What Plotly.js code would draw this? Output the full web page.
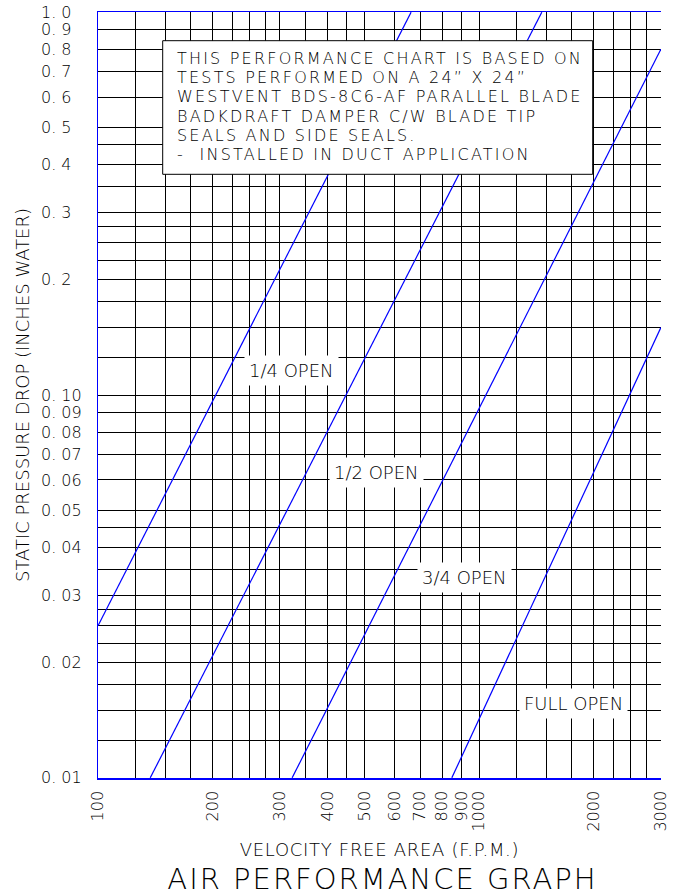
<!DOCTYPE html>
<html>
<head>
<meta charset="utf-8">
<script src="https://cdn.plot.ly/plotly-3.0.1.min.js"></script>
<style>
  html, body { margin: 0; padding: 0; background: #ffffff; }
  #chart { width: 683px; height: 896px; }
  /* wide CAD-style lettering */
  g.annotation[data-index="4"] text, g.annotation[data-index="5"] text,
  g.annotation[data-index="6"] text, g.annotation[data-index="7"] text,
  g.annotation[data-index="8"] text, g.annotation[data-index="9"] text { letter-spacing: 2.2px; }
  text.gtitle { letter-spacing: 2px; }
  text.xtitle { letter-spacing: 0.7px; }
</style>
</head>
<body>
<div id="chart"></div>
<script>
// ---------------- data ----------------
const curveNames = ['1/4 OPEN', '1/2 OPEN', '3/4 OPEN', 'FULL OPEN'];
// endpoints of each (straight on log-log) curve: velocity (F.P.M.) and pressure drop (in. water)
const quarterOpenV = [100, 663];
const quarterOpenP = [0.025, 1.0];
const halfOpenV = [137, 1461];
const halfOpenP = [0.01, 1.0];
const threeQuarterOpenV = [323, 3000];
const threeQuarterOpenP = [0.01, 0.8];
const fullOpenV = [848, 3000];
const fullOpenP = [0.01, 0.15];

const xTickVals = [100, 200, 300, 400, 500, 600, 700, 800, 900, 1000, 2000, 3000];
const xTickText = ['100', '200', '300', '400', '500', '600', '700', '800', '900', '1000', '2000', '3000'];
const xMinorVals = [125, 150, 175, 225, 250, 275, 350, 450, 1250, 1500, 1750, 2250, 2500, 2750];

const yTickVals = [0.01, 0.02, 0.03, 0.04, 0.05, 0.06, 0.07, 0.08, 0.09, 0.1, 0.2, 0.3, 0.4, 0.5, 0.6, 0.7, 0.8, 0.9, 1.0];
const yTickText = ['0. 01', '0. 02', '0. 03', '0. 04', '0. 05', '0. 06', '0. 07', '0. 08', '0. 09', '0. 10',
                   '0. 2', '0. 3', '0. 4', '0. 5', '0. 6', '0. 7', '0. 8', '0. 9', '1. 0'];
const yMinorVals = [0.0125, 0.015, 0.0175, 0.0225, 0.025, 0.0275, 0.035, 0.045,
                    0.125, 0.15, 0.175, 0.225, 0.25, 0.275, 0.35, 0.45];

const xTitle = 'VELOCITY FREE AREA (F.P.M.)';
const yTitle = 'STATIC PRESSURE DROP (INCHES WATER)';
const chartTitle = 'AIR PERFORMANCE GRAPH';
const noteLines = [
  'THIS PERFORMANCE CHART IS BASED ON',
  'TESTS PERFORMED ON A 24\u201D X 24\u201D',
  'WESTVENT BDS-8C6-AF PARALLEL BLADE',
  'BADKDRAFT DAMPER C/W BLADE TIP',
  'SEALS AND SIDE SEALS.',
  '-\u00A0\u00A0INSTALLED IN DUCT APPLICATION'
];

// ---------------- layout helpers ----------------
const FONT = 'DejaVu Sans, Verdana, sans-serif';
const TXT = '#000000';
const BLUE = '#0000ff';
const M = { l: 20, r: 22, t: 12, b: 118 };
const PW = 683 - M.l - M.r, PH = 896 - M.t - M.b;
const plotLeft = 98;
function paperX(px) { return (px - M.l) / PW; }
function paperY(py) { return 1 - (py - M.t) / PH; }

const xRange = [Math.log10(100) - 0.0004, Math.log10(3000) + 0.0004];
const yRange = [Math.log10(0.01) - 0.0004, Math.log10(1.0) + 0.0004];

const seriesV = [quarterOpenV, halfOpenV, threeQuarterOpenV, fullOpenV];
const seriesP = [quarterOpenP, halfOpenP, threeQuarterOpenP, fullOpenP];
const traces = curveNames.map((n, i) => ({
  type: 'scatter', mode: 'lines', name: n,
  x: seriesV[i], y: seriesP[i],
  line: { color: BLUE, width: 1.2 },
  hoverinfo: 'x+y+name'
}));

// curve label positions (pixels)
const labelPos = [[291, 370], [376, 472], [464, 577], [573, 703.5]];
const annotations = curveNames.map((n, i) => ({
  xref: 'paper', yref: 'paper',
  x: paperX(labelPos[i][0]), y: paperY(labelPos[i][1]),
  xanchor: 'center', yanchor: 'middle',
  text: n, showarrow: false, bgcolor: '#ffffff', borderpad: 4,
  font: { family: FONT, size: 18, color: TXT, weight: 200 }
}));
const noteY = [58.8, 77.9, 97.0, 116.1, 135.2, 154.3];
noteLines.forEach((t, i) => annotations.push({
  xref: 'paper', yref: 'paper',
  x: paperX(176), y: paperY(noteY[i]),
  xanchor: 'left', yanchor: 'middle', align: 'left',
  text: t, showarrow: false, borderpad: 0,
  font: { family: FONT, size: 16, color: TXT, weight: 200 }
}));

const layout = {
  width: 683, height: 896,
  margin: M,
  paper_bgcolor: '#ffffff', plot_bgcolor: '#ffffff',
  showlegend: false,
  font: { family: FONT, color: TXT, weight: 200 },
  title: {
    text: chartTitle,
    font: { family: FONT, size: 29, color: TXT, weight: 200 },
    xref: 'paper', x: paperX(382.5), xanchor: 'center',
    yref: 'container', y: 1 - 878.5 / 896, yanchor: 'middle'
  },
  xaxis: {
    type: 'log', range: xRange, domain: [paperX(plotLeft), 1],
    tickmode: 'array', tickvals: xTickVals, ticktext: xTickText,
    tickangle: -90, ticks: '', ticklabelstandoff: 5,
    tickfont: { family: FONT, size: 16, color: TXT, weight: 200 },
    showgrid: true, gridcolor: '#000000', gridwidth: 1,
    minor: { tickmode: 'array', tickvals: xMinorVals, showgrid: true, gridcolor: '#000000', gridwidth: 1, ticks: '' },
    showline: true, linecolor: BLUE, linewidth: 1.5, mirror: true,
    zeroline: false, fixedrange: true,
    title: { text: xTitle, standoff: 13, font: { family: FONT, size: 18, color: TXT, weight: 200 } }
  },
  yaxis: {
    type: 'log', range: yRange,
    tickmode: 'array', tickvals: yTickVals, ticktext: yTickText,
    showticklabels: false, ticks: '',
    showgrid: true, gridcolor: '#000000', gridwidth: 1,
    minor: { tickmode: 'array', tickvals: yMinorVals, showgrid: true, gridcolor: '#000000', gridwidth: 1, ticks: '' },
    showline: true, linecolor: BLUE, linewidth: 1.5, mirror: false,
    zeroline: false, fixedrange: true,
    title: { text: yTitle, standoff: 62, font: { family: FONT, size: 18, color: TXT, weight: 200 } }
  },
  yaxis2: {
    type: 'log', range: yRange, overlaying: 'y', side: 'right',
    anchor: 'free', position: paperX(40),
    tickmode: 'array', tickvals: yTickVals, ticktext: yTickText,
    ticks: '', showgrid: false, showline: false, zeroline: false, fixedrange: true,
    tickfont: { family: FONT, size: 16, color: TXT, weight: 200 }
  },
  shapes: [{
    type: 'rect', xref: 'paper', yref: 'paper', layer: 'above',
    x0: paperX(162.7), x1: paperX(592.7), y0: paperY(174.3), y1: paperY(40.7),
    line: { color: '#000000', width: 1 }, fillcolor: '#ffffff'
  }],
  annotations: annotations
};

// invisible helper trace so that the left-aligned label axis (yaxis2) is drawn
traces.push({ type: 'scatter', mode: 'markers', x: [100], y: [0.01], yaxis: 'y2',
  marker: { opacity: 0 }, hoverinfo: 'skip', showlegend: false });

Plotly.newPlot('chart', traces, layout, { staticPlot: true, displayModeBar: false });
</script>
</body>
</html>
